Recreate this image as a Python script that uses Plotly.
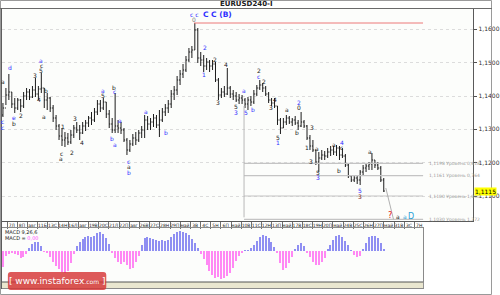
import plotly.graph_objects as go

# ---------------- data ----------------
bar_open = [1.1343, 1.1364, 1.1403, 1.1412, 1.1376, 1.1364, 1.1388, 1.1370, 1.1400, 1.1412,
            1.1397, 1.1418, 1.1406, 1.1421, 1.1424, 1.1388, 1.1394, 1.1364, 1.1334, 1.1310,
            1.1280, 1.1268, 1.1274, 1.1262, 1.1283, 1.1304, 1.1298, 1.1289, 1.1310, 1.1319,
            1.1334, 1.1328, 1.1352, 1.1376, 1.1364, 1.1382, 1.1346, 1.1316, 1.1298, 1.1310,
            1.1304, 1.1298, 1.1268, 1.1238, 1.1256, 1.1274, 1.1268, 1.1289, 1.1298, 1.1328,
            1.1316, 1.1322, 1.1334, 1.1313, 1.1328, 1.1352, 1.1364, 1.1376, 1.1406, 1.1418,
            1.1448, 1.1466, 1.1478, 1.1508, 1.1532, 1.1538, 1.1598, 1.1514, 1.1508, 1.1490,
            1.1502, 1.1490, 1.1496, 1.1448, 1.1403, 1.1412, 1.1406, 1.1424, 1.1406, 1.1400,
            1.1388, 1.1394, 1.1388, 1.1376, 1.1388, 1.1382, 1.1406, 1.1424, 1.1433, 1.1424,
            1.1406, 1.1388, 1.1379, 1.1370, 1.1328, 1.1304, 1.1322, 1.1334, 1.1322, 1.1328,
            1.1319, 1.1310, 1.1322, 1.1310, 1.1274, 1.1250, 1.1238, 1.1202, 1.1214, 1.1223,
            1.1220, 1.1232, 1.1238, 1.1232, 1.1244, 1.1223, 1.1220, 1.1193, 1.1160, 1.1148,
            1.1154, 1.1148, 1.1172, 1.1184, 1.1190, 1.1196, 1.1208, 1.1193, 1.1184, 1.1148]
bar_high = [1.1379, 1.1424, 1.1466, 1.1412, 1.1394, 1.1394, 1.1391, 1.1412, 1.1424, 1.1421,
            1.1430, 1.1454, 1.1430, 1.1469, 1.1424, 1.1409, 1.1397, 1.1373, 1.1343, 1.1316,
            1.1304, 1.1292, 1.1289, 1.1298, 1.1313, 1.1322, 1.1313, 1.1322, 1.1328, 1.1340,
            1.1352, 1.1364, 1.1388, 1.1388, 1.1394, 1.1382, 1.1358, 1.1334, 1.1409, 1.1328,
            1.1322, 1.1304, 1.1274, 1.1268, 1.1286, 1.1292, 1.1298, 1.1310, 1.1343, 1.1340,
            1.1334, 1.1346, 1.1343, 1.1358, 1.1364, 1.1376, 1.1388, 1.1418, 1.1430, 1.1460,
            1.1478, 1.1496, 1.1520, 1.1544, 1.1550, 1.1619, 1.1604, 1.1532, 1.1523, 1.1514,
            1.1508, 1.1508, 1.1502, 1.1454, 1.1424, 1.1430, 1.1484, 1.1430, 1.1418, 1.1412,
            1.1406, 1.1403, 1.1394, 1.1397, 1.1400, 1.1418, 1.1433, 1.1448, 1.1439, 1.1430,
            1.1412, 1.1394, 1.1394, 1.1370, 1.1334, 1.1334, 1.1343, 1.1340, 1.1334, 1.1340,
            1.1328, 1.1352, 1.1328, 1.1313, 1.1283, 1.1268, 1.1238, 1.1232, 1.1238, 1.1235,
            1.1244, 1.1250, 1.1250, 1.1253, 1.1250, 1.1244, 1.1226, 1.1199, 1.1163, 1.1160,
            1.1160, 1.1178, 1.1193, 1.1199, 1.1202, 1.1229, 1.1208, 1.1202, 1.1190, 1.1154]
bar_low = [1.1337, 1.1373, 1.1388, 1.1364, 1.1349, 1.1358, 1.1352, 1.1364, 1.1388, 1.1388,
           1.1394, 1.1397, 1.1388, 1.1409, 1.1364, 1.1358, 1.1352, 1.1322, 1.1298, 1.1268,
           1.1250, 1.1247, 1.1253, 1.1256, 1.1274, 1.1289, 1.1268, 1.1286, 1.1295, 1.1307,
           1.1313, 1.1322, 1.1343, 1.1352, 1.1358, 1.1334, 1.1304, 1.1289, 1.1289, 1.1289,
           1.1286, 1.1262, 1.1223, 1.1232, 1.1250, 1.1253, 1.1262, 1.1274, 1.1274, 1.1298,
           1.1298, 1.1307, 1.1304, 1.1277, 1.1322, 1.1340, 1.1349, 1.1364, 1.1388, 1.1403,
           1.1433, 1.1454, 1.1472, 1.1502, 1.1514, 1.1538, 1.1499, 1.1490, 1.1472, 1.1478,
           1.1472, 1.1478, 1.1442, 1.1388, 1.1394, 1.1397, 1.1403, 1.1394, 1.1388, 1.1382,
           1.1376, 1.1376, 1.1364, 1.1358, 1.1370, 1.1376, 1.1400, 1.1418, 1.1412, 1.1400,
           1.1379, 1.1370, 1.1364, 1.1313, 1.1286, 1.1304, 1.1313, 1.1316, 1.1310, 1.1313,
           1.1298, 1.1307, 1.1304, 1.1268, 1.1238, 1.1232, 1.1193, 1.1172, 1.1208, 1.1208,
           1.1214, 1.1220, 1.1223, 1.1220, 1.1208, 1.1214, 1.1187, 1.1154, 1.1142, 1.1142,
           1.1136, 1.1133, 1.1163, 1.1172, 1.1178, 1.1178, 1.1184, 1.1178, 1.1142, 1.1112]
bar_close = [1.1364, 1.1403, 1.1412, 1.1376, 1.1364, 1.1388, 1.1370, 1.1400, 1.1412, 1.1397,
             1.1418, 1.1406, 1.1421, 1.1424, 1.1388, 1.1394, 1.1364, 1.1334, 1.1310, 1.1280,
             1.1268, 1.1274, 1.1262, 1.1283, 1.1304, 1.1298, 1.1289, 1.1310, 1.1319, 1.1334,
             1.1328, 1.1352, 1.1376, 1.1364, 1.1382, 1.1346, 1.1316, 1.1298, 1.1310, 1.1304,
             1.1298, 1.1268, 1.1238, 1.1256, 1.1274, 1.1268, 1.1289, 1.1298, 1.1328, 1.1316,
             1.1322, 1.1334, 1.1313, 1.1328, 1.1352, 1.1364, 1.1376, 1.1406, 1.1418, 1.1448,
             1.1466, 1.1478, 1.1508, 1.1532, 1.1538, 1.1598, 1.1514, 1.1508, 1.1490, 1.1502,
             1.1490, 1.1496, 1.1448, 1.1403, 1.1412, 1.1406, 1.1424, 1.1406, 1.1400, 1.1388,
             1.1394, 1.1388, 1.1376, 1.1388, 1.1382, 1.1406, 1.1424, 1.1433, 1.1424, 1.1406,
             1.1388, 1.1379, 1.1370, 1.1328, 1.1304, 1.1322, 1.1334, 1.1322, 1.1328, 1.1319,
             1.1310, 1.1322, 1.1310, 1.1274, 1.1250, 1.1238, 1.1202, 1.1214, 1.1223, 1.1220,
             1.1232, 1.1238, 1.1232, 1.1244, 1.1223, 1.1220, 1.1193, 1.1160, 1.1148, 1.1154,
             1.1148, 1.1172, 1.1184, 1.1190, 1.1196, 1.1208, 1.1193, 1.1184, 1.1148, 1.1115]
macd_hist = [-0.0016, -0.0005, -0.0003, -0.0002, -0.0003, -0.0004, -0.0007, -0.0006, -0.0003, 0.0003,
             0.0007, 0.0009, 0.0009, 0.0005, -0.0001, -0.0002, -0.0006, -0.0011, -0.0015, -0.0018,
             -0.0021, -0.0022, -0.0020, -0.0012, -0.0003, 0.0005, 0.0009, 0.0012, 0.0014, 0.0015,
             0.0014, 0.0015, 0.0018, 0.0019, 0.0017, 0.0013, 0.0007, -0.0002, -0.0007, -0.0011,
             -0.0013, -0.0011, -0.0014, -0.0018, -0.0017, -0.0011, -0.0005, 0.0006, 0.0013, 0.0014,
             0.0013, 0.0012, 0.0011, 0.0010, 0.0011, 0.0010, 0.0011, 0.0014, 0.0017, 0.0019,
             0.0020, 0.0019, 0.0018, 0.0016, 0.0012, 0.0008, 0.0003, -0.0003, -0.0008, -0.0014,
             -0.0020, -0.0024, -0.0027, -0.0026, -0.0028, -0.0027, -0.0025, -0.0022, -0.0017, -0.0010,
             -0.0005, -0.0002, 0.0001, 0.0001, 0.0003, 0.0006, 0.0010, 0.0014, 0.0016, 0.0015,
             0.0013, 0.0009, 0.0004, -0.0002, -0.0012, -0.0019, -0.0017, -0.0012, -0.0006, 0.0002,
             0.0006, 0.0008, 0.0005, -0.0002, -0.0006, -0.0011, -0.0014, -0.0014, -0.0011, -0.0007,
             0.0002, 0.0006, 0.0011, 0.0015, 0.0016, 0.0014, 0.0010, 0.0006, 0.0001, -0.0004,
             -0.0006, -0.0005, 0.0002, 0.0008, 0.0014, 0.0015, 0.0015, 0.0013, 0.0008, 0.0002]
bar_idx = list(range(len(bar_close)))

price_ticks = [1.11, 1.12, 1.13, 1.14, 1.15, 1.16]
current_price = 1.1115
date_labels = ["7Л", "8П", "авг", "11Б", "13С", "14Н", "16Л", "авг", "19В", "20С", "21Л",
               "22П", "авг", "26В", "27С", "28Н", "29П", "май", "3В", "4С", "5Н", "6П",
               "май", "10В", "11С", "12Н", "13П", "май", "17В", "18С", "19Н", "20П", "май",
               "24В", "25С", "26Н", "27П", "май", "31В", "3С", "7Н"]

fib_levels = [1.1198, 1.1161, 1.1100, 1.1030]
fib_ratios = ["0,618", "0,764", "1,000", "1,272"]
resist_level = 1.1619

# wave labels: bar position, price, text, colour key
lab_x = [-0.3, -0.3, 0, 2.3, 3.7, 3.7, 6, 10.7, 13, 13, 13, 14.7, 12.3, 14, 20.3, 19.7, 19.7,
         23.3, 24.3, 26.7, 34, 34, 37.7, 37.7, 37, 38, 39.7, 42.7, 42.7, 42.7, 48.3, 55.3,
         64.7, 68.3, 68, 71.7, 73, 75.7, 79, 79, 81.7, 82.3, 84.7, 86.7, 86.7, 88.3, 90.7,
         92.3, 93.3, 93.3, 96.3, 99.7, 100.3, 100.3, 104.7, 103, 104.3, 106.3, 106.7, 106.7,
         112.3, 114.7, 114.7, 114, 121, 121, 124.3, 131, 133.7, 136.3, 138.3]
lab_y = [1.1322, 1.1304, 1.1442, 1.1484, 1.1334, 1.1316, 1.1340, 1.1460, 1.1505, 1.1490, 1.1475,
         1.1415, 1.1388, 1.1337, 1.1307, 1.1229, 1.1214, 1.1232, 1.1331, 1.1262, 1.1415, 1.1400,
         1.1424, 1.1412, 1.1274, 1.1256, 1.1325, 1.1205, 1.1190, 1.1172, 1.1352, 1.1292,
         1.1628, 1.1544, 1.1463, 1.1508, 1.1379, 1.1493, 1.1367, 1.1349, 1.1415, 1.1349, 1.1358,
         1.1475, 1.1457, 1.1442, 1.1364, 1.1388, 1.1277, 1.1262, 1.1358, 1.1292, 1.1379, 1.1364,
         1.1304, 1.1247, 1.1205, 1.1244, 1.1172, 1.1157, 1.1256, 1.1262, 1.1247, 1.1178,
         1.1118, 1.1100, 1.1235, 1.1043, 1.1040, 1.1040, 1.1040]
lab_t = ["c", "c", "a", "d", "e", "b", "2", "3", "a", "c", "5", "b", "4", "a", "1", "c", "a",
         "2", "3", "4", "a", "5", "b", "c", "b", "a", "a", "c", "a", "b", "a", "b",
         "0", "2", "1", "2", "3", "4", "5", "3", "a", "5", "b", "2", "c", "2", "3",
         "4", "5", "1", "a", "b", "2", "0", "3", "1", "3", "a", "5", "3",
         "a", "4", "c", "b", "5", "3", "a", "?", "a", "a", "D"]
lab_c = ["b", "b", "k", "b", "b", "k", "k", "k", "b", "k", "k", "k", "k", "k", "k", "k", "k",
         "k", "k", "k", "b", "k", "k", "b", "b", "b", "b", "b", "k", "b", "b", "b",
         "g", "b", "b", "k", "k", "k", "k", "b", "b", "b", "b", "k", "b", "k", "k",
         "k", "k", "b", "k", "k", "b", "k", "k", "k", "k", "k", "k", "b",
         "k", "b", "k", "k", "b", "m", "k", "r", "k", "t", "t"]

# ---------------- layout helpers ----------------
W, H = 500, 295
def fx(p):
    return p / W
def fy(p):
    return 1 - p / H

colors = {"b": "#2f2fff", "k": "#202020", "g": "#808080", "r": "#e01010",
          "m": "#7a1a1a", "t": "#2a9fd8"}
FONT = "DejaVu Sans"

fig = go.Figure()
fig.add_trace(go.Ohlc(
    x=bar_idx, open=bar_open, high=bar_high, low=bar_low, close=bar_close,
    increasing=dict(line=dict(color="#1c1c1c", width=1)),
    decreasing=dict(line=dict(color="#1c1c1c", width=1)),
    tickwidth=0.35, xaxis="x", yaxis="y", hoverinfo="skip", showlegend=False))

fig.add_trace(go.Bar(
    x=bar_idx, y=macd_hist, width=0.45,
    marker=dict(color=["#8f8ff2" if v >= 0 else "#ff88f4" for v in macd_hist], line=dict(width=0)),
    xaxis="x2", yaxis="y2", hoverinfo="skip", showlegend=False))

shapes = []
annos = []

# fibonacci levels
fib_x0, fib_x1 = 81.67, 142.33
for lv, rt in zip(fib_levels, fib_ratios):
    shapes.append(dict(type="line", xref="x", yref="y", x0=fib_x0, x1=fib_x1, y0=lv, y1=lv,
                       line=dict(color="#c4c4c4", width=1.2)))
    annos.append(dict(xref="x", yref="y", x=143.6, y=lv, xanchor="left", yanchor="middle",
                      text=f"{lv:.4f}".replace(".", ",") + " Уровень " + rt,
                      showarrow=False, font=dict(size=4.5, color="#9a9a9a", family=FONT)))
# vertical marker line
shapes.append(dict(type="line", xref="x", yref="y", x0=fib_x0, x1=fib_x0, y0=1.1370, y1=fib_levels[-1] + 0.0006,
                   line=dict(color="#b8b8b8", width=1)))
# projection line
shapes.append(dict(type="line", xref="x", yref="y", x0=129.7, x1=132.3, y0=1.1124, y1=fib_levels[-1],
                   line=dict(color="#b0b0b0", width=1)))
# resistance line
shapes.append(dict(type="line", xref="x", yref="y", x0=64.7, x1=142.3, y0=resist_level, y1=resist_level,
                   line=dict(color="#ec7878", width=1)))

# frame elements
shapes.append(dict(type="rect", xref="paper", yref="paper", x0=fx(0.5), x1=fx(499.5), y0=fy(294.5), y1=fy(0.5),
                   line=dict(color="#9a9a9a", width=1)))
shapes.append(dict(type="line", xref="paper", yref="paper", x0=0, x1=1, y0=fy(8.5), y1=fy(8.5),
                   line=dict(color="#6a6a6a", width=1)))
shapes.append(dict(type="line", xref="paper", yref="paper", x0=fx(1.5), x1=fx(1.5), y0=fy(289), y1=fy(8.5),
                   line=dict(color="#5a5a5a", width=1)))
shapes.append(dict(type="rect", xref="paper", yref="paper", x0=fx(2), x1=fx(430), y0=fy(288), y1=fy(282),
                   fillcolor="#e9e6cf", line=dict(width=0)))
shapes.append(dict(type="line", xref="paper", yref="paper", x0=fx(2), x1=fx(430), y0=fy(282), y1=fy(282),
                   line=dict(color="#555555", width=1)))
# watermark box
x0w, x1w, y0w, y1w, r = 8, 108, 272, 290, 3
path = (f"M {fx(x0w + r)},{fy(y0w)} L {fx(x1w - r)},{fy(y0w)} Q {fx(x1w)},{fy(y0w)} {fx(x1w)},{fy(y0w + r)} "
        f"L {fx(x1w)},{fy(y1w - r)} Q {fx(x1w)},{fy(y1w)} {fx(x1w - r)},{fy(y1w)} "
        f"L {fx(x0w + r)},{fy(y1w)} Q {fx(x0w)},{fy(y1w)} {fx(x0w)},{fy(y1w - r)} "
        f"L {fx(x0w)},{fy(y0w + r)} Q {fx(x0w)},{fy(y0w)} {fx(x0w + r)},{fy(y0w)} Z")
shapes.append(dict(type="path", xref="paper", yref="paper", path=path,
                   fillcolor="rgba(214,52,52,0.82)", line=dict(width=0)))

# wave labels
for x, y, t, c in zip(lab_x, lab_y, lab_t, lab_c):
    size = 8 if t in ("?", "D") else 6
    annos.append(dict(xref="x", yref="y", x=x, y=y, text=t, showarrow=False,
                      xanchor="center", yanchor="middle",
                      font=dict(size=size, color=colors[c], family=FONT)))
annos.append(dict(xref="x", yref="y", x=64.8, y=1.1643, text="c c", showarrow=False,
                  xanchor="center", yanchor="middle",
                  font=dict(size=6, color=colors["b"], family=FONT)))
annos.append(dict(xref="x", yref="y", x=72.8, y=1.1643, text="<b>C C (B)</b>", showarrow=False,
                  xanchor="center", yanchor="middle",
                  font=dict(size=7.5, color=colors["b"], family=FONT)))

# title
annos.append(dict(xref="paper", yref="paper", x=0.5, y=fy(4.3), xanchor="center", yanchor="middle",
                  text="<b>EURUSD240-I</b>",
                  showarrow=False, font=dict(size=7, color="#202020", family=FONT)))
# current price box
annos.append(dict(xref="paper", yref="y", x=fx(481.5), y=current_price, xanchor="left", yanchor="middle",
                  text=f"{current_price:.4f}".replace(".", ","), showarrow=False, bgcolor="#ffff00",
                  borderpad=0, font=dict(size=6, color="#000000", family=FONT)))
# MACD texts
annos.append(dict(xref="paper", yref="paper", x=fx(3.5), y=fy(231.5), xanchor="left", yanchor="middle",
                  text="MACD 9,26,6", showarrow=False, font=dict(size=5, color="#202020", family=FONT)))
annos.append(dict(xref="paper", yref="paper", x=fx(3.5), y=fy(237.5), xanchor="left", yanchor="middle",
                  text="MACD = <span style='color:#ff40ff'>0,00</span>", showarrow=False,
                  font=dict(size=5, color="#202020", family=FONT)))
# watermark text
annos.append(dict(xref="paper", yref="paper", x=fx(58), y=fy(281), xanchor="center", yanchor="middle",
                  text="[ www.instaforex<span style='font-size:6px'>.com</span> ]", showarrow=False,
                  font=dict(size=9, color="#ffffff", family=FONT)))

date_tick_pos = [3 + k * 3.45 for k in range(len(date_labels))]
date_sep_pos = [p - 1.6 for p in date_tick_pos]

fig.update_layout(
    width=W, height=H, margin=dict(l=0, r=0, t=0, b=0),
    paper_bgcolor="#ffffff", plot_bgcolor="#fcfdfb",
    separators=", ", showlegend=False, bargap=0,
    shapes=shapes, annotations=annos,
    xaxis=dict(domain=[fx(2), fx(481)], range=[-1 / 3, 159.333], anchor="y",
               tickmode="array", tickvals=date_tick_pos, ticktext=date_labels,
               tickfont=dict(size=4.5, color="#222222", family=FONT), ticks="",
               tickangle=0, ticklabelstandoff=0,
               minor=dict(tickmode="array", tickvals=date_sep_pos, ticks="outside", ticklen=7,
                          tickcolor="#707070", tickwidth=1, showgrid=False),
               showgrid=False, zeroline=False, showline=True, linecolor="#5a5a5a", linewidth=1,
               rangeslider=dict(visible=False), fixedrange=True),
    yaxis=dict(domain=[fy(220.5), fy(9)], range=[1.10265, 1.1661], side="right", anchor="x",
               tickmode="array", tickvals=price_ticks, tickformat=".4f",
               ticks="outside", ticklen=3, tickcolor="#505050",
               tickfont=dict(size=6, color="#303030", family=FONT),
               showgrid=True, gridcolor="#dcdcdc", griddash="dot", gridwidth=1,
               zeroline=False, showline=True, linecolor="#5a5a5a", linewidth=1, fixedrange=True),
    xaxis2=dict(domain=[fx(2), fx(430)], range=[-1 / 3, 142.333], anchor="y2",
                showticklabels=False, ticks="", showgrid=False, zeroline=False,
                showline=True, mirror=True, linecolor="#8a8a8a", linewidth=1, fixedrange=True),
    yaxis2=dict(domain=[fy(288), fy(228)], range=[-0.0037, 0.0023], anchor="x2",
                showticklabels=False, ticks="", showgrid=False, zeroline=False,
                showline=True, mirror=True, linecolor="#8a8a8a", linewidth=1, fixedrange=True),
)

fig.write_html("out.html")
